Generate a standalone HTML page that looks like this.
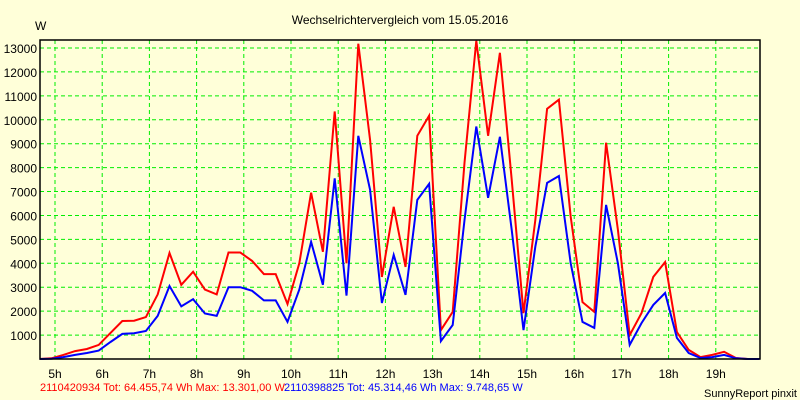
<!DOCTYPE html>
<html><head><meta charset="utf-8"><style>
body{margin:0;background:#FFFFD9;}
svg{display:block;font-family:"Liberation Sans",sans-serif;}
</style></head><body>
<svg id="chart" width="800" height="400">
<rect x="0" y="0" width="800" height="400" fill="#FFFFD9"/>
<text x="400" y="24" text-anchor="middle" font-size="12" fill="#000">Wechselrichtervergleich vom 15.05.2016</text>
<text x="35" y="30" font-size="12" fill="#000">W</text>
<g id="grid"></g>
<g id="series"></g>
<rect x="40" y="40" width="720" height="319" fill="none" stroke="#000" stroke-width="1.5"/>
<g id="labels"></g>
<text x="40" y="391" font-size="11" fill="#FF0000">2110420934 Tot: 64.455,74 Wh Max: 13.301,00 W</text>
<text x="284" y="391" font-size="11" fill="#0000FF">2110398825 Tot: 45.314,46 Wh Max: 9.748,65 W</text>
<text x="797" y="397" text-anchor="end" font-size="11" fill="#000">SunnyReport pinxit</text>
</svg>
<script>
const yTicks=[1000,2000,3000,4000,5000,6000,7000,8000,9000,10000,11000,12000,13000];
const xHours=[5,6,7,8,9,10,11,12,13,14,15,16,17,18,19];
const startHour=4.675;
const stepHour=0.25;
const redValues=[0,30,170,330,420,590,1090,1590,1600,1750,2700,4430,3100,3650,2900,2700,4450,4450,4100,3550,3550,2300,4000,6950,4480,10350,4000,13180,9150,3430,6360,3850,9330,10170,1210,1970,8200,13300,9330,12800,7500,1920,5800,10460,10840,5950,2380,1970,9040,5400,1000,1920,3430,4050,1130,380,80,170,300,40,0,0];
const blueValues=[0,10,80,170,250,350,710,1050,1080,1170,1800,3050,2200,2500,1900,1800,3000,3000,2850,2450,2450,1550,2900,4900,3100,7550,2650,9330,7070,2340,4350,2680,6650,7320,750,1420,5800,9720,6740,9290,5400,1210,4690,7360,7650,4000,1550,1300,6440,4000,590,1500,2260,2760,880,250,40,80,170,30,0,0];
const NS="http://www.w3.org/2000/svg";
function xScale(h){return 55+(h-5)*47.2;}
function yScale(v){return 359-v*(311/13000);}
const grid=document.getElementById('grid'),labels=document.getElementById('labels'),series=document.getElementById('series');
function mk(tag,attrs,parent){const e=document.createElementNS(NS,tag);for(const k in attrs)e.setAttribute(k,attrs[k]);parent.appendChild(e);return e;}
yTicks.forEach(v=>{const y=yScale(v);
 const l=mk('line',{x1:40,x2:760,y1:y,y2:y,stroke:'#00EE00','stroke-width':1,'stroke-dasharray':'4,3'},grid);
 
 
 const t=mk('text',{x:37,y:y+5,'text-anchor':'end','font-size':12,fill:'#000'},labels);
 t.textContent=v;
 
 
});
xHours.forEach(h=>{const x=xScale(h);
 const l=mk('line',{x1:x,x2:x,y1:40,y2:359,stroke:'#00EE00','stroke-width':1,'stroke-dasharray':'4,3'},grid);
 
 
 const t=mk('text',{x:x,y:378,'text-anchor':'middle','font-size':12,fill:'#000'},labels);
 t.textContent=h+'h';
 
 
});
function line(vals,color,name){
 const pts=vals.map((v,i)=>xScale(startHour+i*stepHour).toFixed(1)+','+yScale(v).toFixed(1)).join(' ');
 const p=mk('polyline',{points:pts,fill:'none',stroke:color,'stroke-width':2,'stroke-linejoin':'miter'},series);
 
 
}
line(redValues,'#FF0000','red-series-line');
line(blueValues,'#0000FF','blue-series-line');
</script>
</body></html>
